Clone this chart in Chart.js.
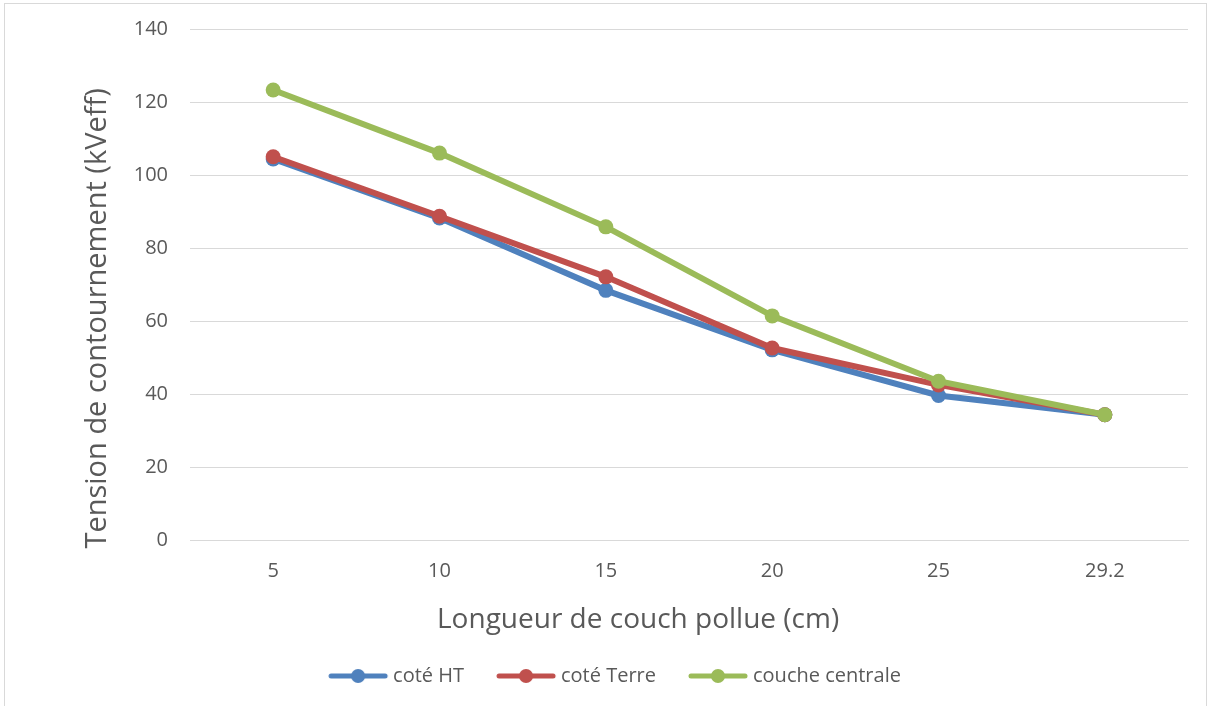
<!DOCTYPE html>
<html>
<head>
<meta charset="utf-8">
<script src="https://cdn.jsdelivr.net/npm/chart.js@4.4.1/dist/chart.umd.min.js"></script>
<style>
  html, body { margin: 0; padding: 0; background: #fff; }
  #wrap { position: absolute; left: 4px; top: 3px; width: 1203px; height: 710px; border: 1px solid #d9d9d9; border-bottom: none; box-sizing: border-box; }
  canvas { position: absolute; left: 0; top: 0; }
</style>
</head>
<body>
<div id="wrap"></div>
<canvas id="chart" width="1211" height="706"></canvas>
<script>
// Data
const labels = ['5', '10', '15', '20', '25', '29.2'];
const coteHT = [104.4, 88.2, 68.4, 52.1, 39.6, 34.3];
const coteTerre = [105.0, 88.7, 72.1, 52.6, 42.5, 34.3];
const coucheCentrale = [123.3, 106.0, 85.8, 61.4, 43.5, 34.3];
const yTicks = [0, 20, 40, 60, 80, 100, 120, 140];

const textColor = '#595959';
const fontFamily = "'Open Sans', 'Liberation Sans', sans-serif";

// little line-with-dot marker for the legend, like Excel does
// (image is wider than the legend box so the gap to the text is tighter)
function legendMarker(color) {
    const c = document.createElement('canvas');
    c.width = 72;
    c.height = 16;
    const ctx = c.getContext('2d');
    ctx.strokeStyle = color;
    ctx.lineWidth = 5;
    ctx.lineCap = 'round';
    ctx.beginPath();
    ctx.moveTo(14, 8);
    ctx.lineTo(68, 8);
    ctx.stroke();
    ctx.fillStyle = color;
    ctx.beginPath();
    ctx.arc(41, 8, 7, 0, Math.PI * 2);
    ctx.fill();
    return c;
}

function makeSeries(label, data, color, order) {
    return {
        label: label,
        data: data,
        borderColor: color,
        backgroundColor: color,
        borderWidth: 6,
        pointRadius: 7.5,
        pointHoverRadius: 7.5,
        pointBorderWidth: 0,
        tension: 0,
        order: order,
        pointStyle: 'circle',
        legendMarker: legendMarker(color)
    };
}

const ctx = document.getElementById('chart');
new Chart(ctx, {
    type: 'line',
    data: {
        labels: labels,
        datasets: [
            makeSeries('coté HT', coteHT, '#4f81bd', 2),
            makeSeries('coté Terre', coteTerre, '#c0504d', 1),
            makeSeries('couche centrale', coucheCentrale, '#9bbb59', 0)
        ]
    },
    options: {
        responsive: false,
        animation: false,
        layout: {
            padding: { top: 29, right: 23, bottom: 10, left: 36 }
        },
        plugins: {
            legend: {
                position: 'bottom',
                labels: {
                    color: textColor,
                    font: { family: fontFamily, size: 20 },
                    usePointStyle: true,
                    pointStyleWidth: 60,
                    padding: 27,
                    sort: (a, b) => a.datasetIndex - b.datasetIndex,
                    generateLabels: function(chart) {
                        const items = Chart.defaults.plugins.legend.labels.generateLabels(chart);
                        items.forEach(item => {
                            item.pointStyle = chart.data.datasets[item.datasetIndex].legendMarker;
                        });
                        return items;
                    }
                }
            },
            tooltip: { enabled: false }
        },
        scales: {
            x: {
                offset: true,
                grid: { display: false, drawTicks: false },
                border: { color: '#d9d9d9', width: 1 },
                ticks: {
                    color: textColor,
                    font: { family: fontFamily, size: 20 },
                    padding: 19
                },
                title: {
                    display: true,
                    // trailing spaces push the text left, Excel doesn't centre it on the plot
                    text: 'Longueur de couch pollue (cm)              ',
                    color: textColor,
                    font: { family: fontFamily, size: 28 },
                    padding: { top: 0, bottom: 2 }
                },
                afterFit: function(scale) { scale.height = 99; }
            },
            y: {
                min: 0,
                max: 140,
                afterBuildTicks: function(scale) {
                    scale.ticks = yTicks.map(v => ({ value: v }));
                },
                grid: { color: '#d9d9d9', lineWidth: 1, drawTicks: false },
                border: { display: false },
                ticks: {
                    color: textColor,
                    font: { family: fontFamily, size: 20 },
                    padding: 22
                },
                title: {
                    display: true,
                    text: 'Tension de contournement (kVeff)         ',
                    color: textColor,
                    font: { family: fontFamily, size: 29 },
                    padding: { top: 44, bottom: 0 }
                },
                afterFit: function(scale) {
                    scale.width = 154;
                    scale.paddingTop = 0;
                    scale.paddingBottom = 0;
                }
            }
        }
    }
});
</script>
</body>
</html>
